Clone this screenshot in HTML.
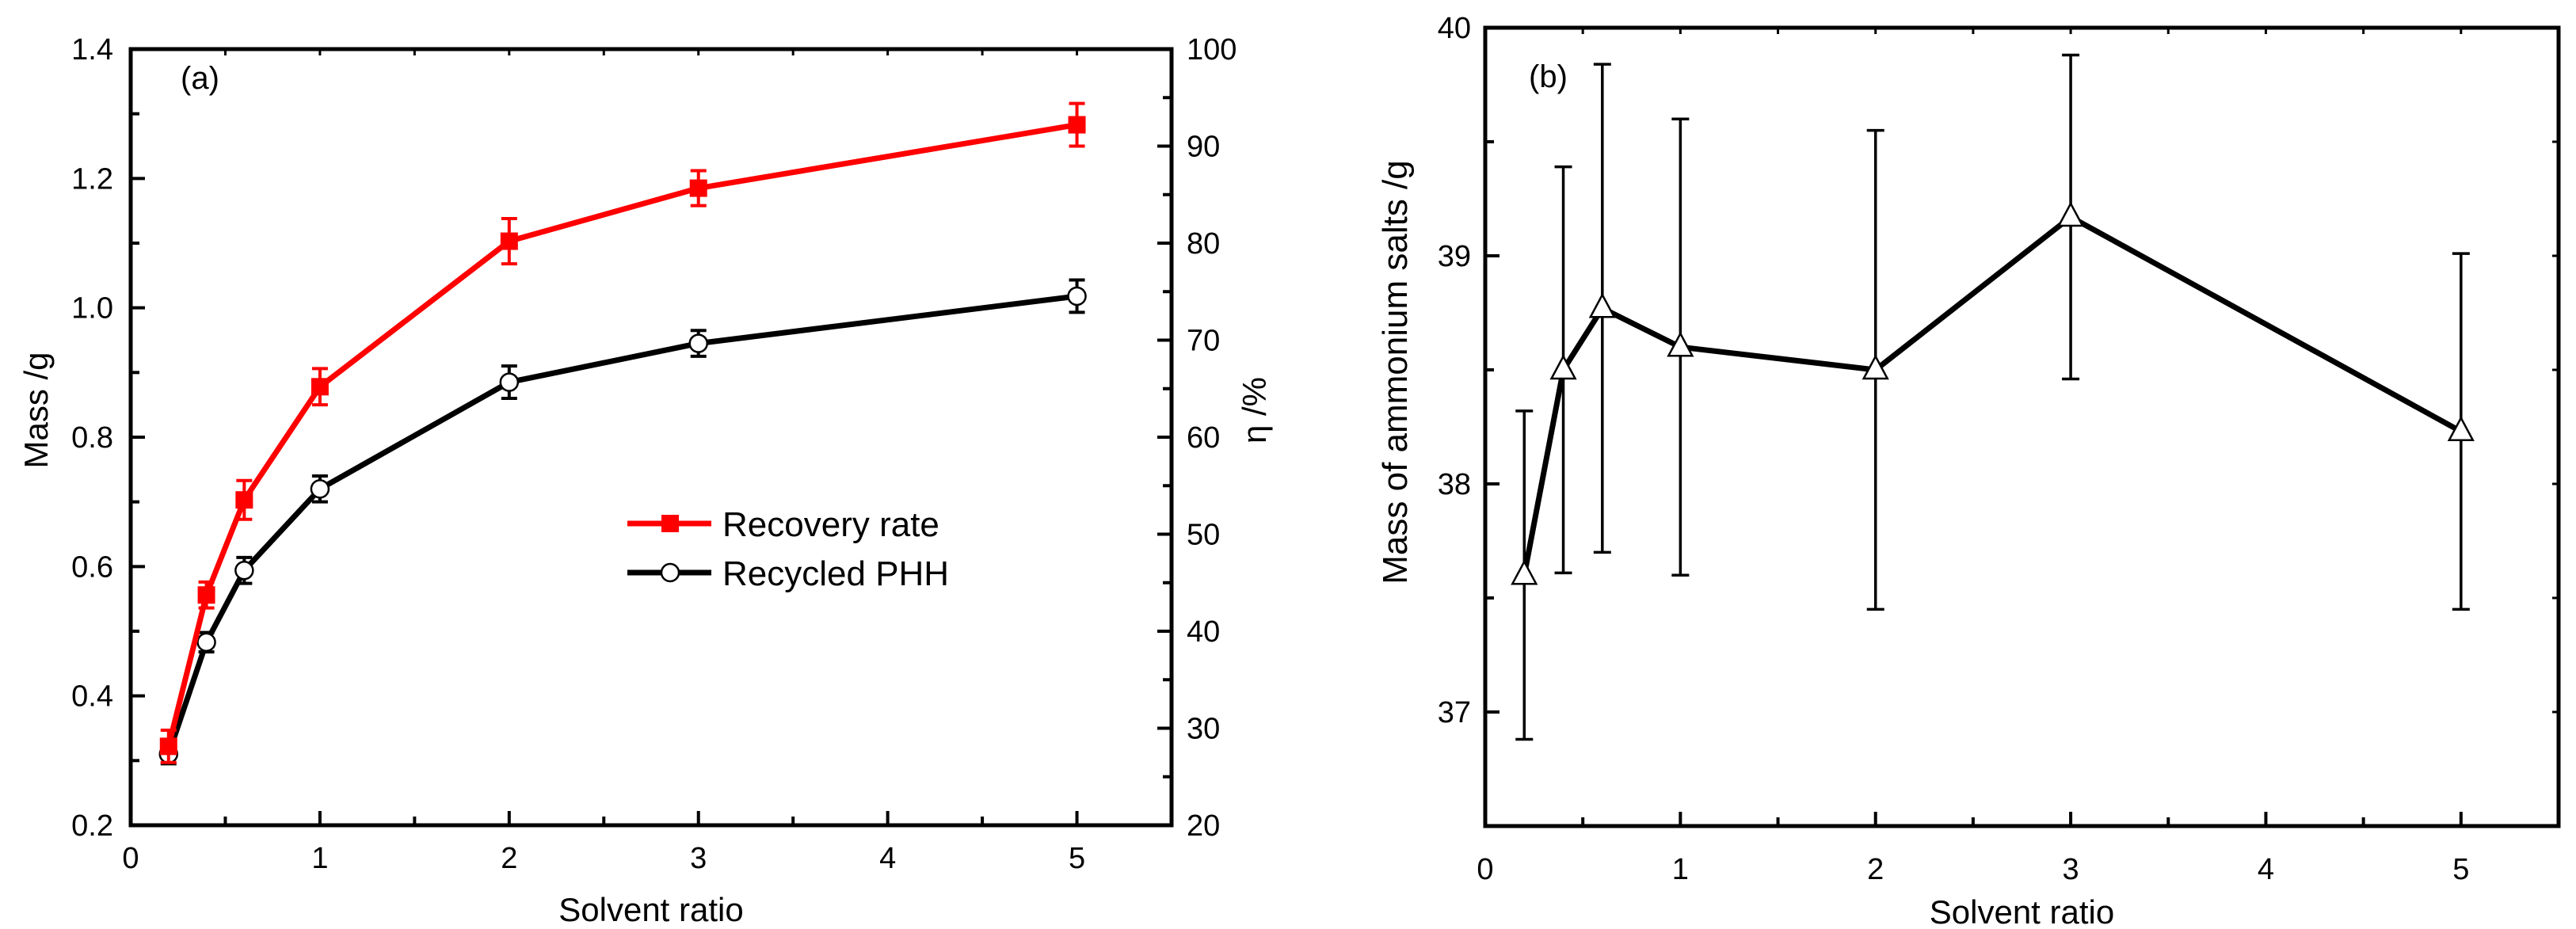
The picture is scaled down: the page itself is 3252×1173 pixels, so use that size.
<!DOCTYPE html>
<html><head><meta charset="utf-8"><style>
html,body{margin:0;padding:0;background:#fff}
svg{display:block}
text{font-family:"Liberation Sans",Arial,sans-serif;fill:#000}
</style></head><body>
<svg id="chart" width="3252" height="1173" viewBox="0 0 3252 1173" xmlns="http://www.w3.org/2000/svg"></svg>
<script>
const xCats=[0.2,0.4,0.6,1,2,3,5];
const recoveryMass=[0.322,0.556,0.703,0.878,1.103,1.185,1.283];
const recoveryErr=[0.025,0.02,0.03,0.028,0.035,0.027,0.033];
const phhMass=[0.31,0.483,0.594,0.72,0.885,0.945,1.018];
const phhErr=[0.015,0.015,0.02,0.02,0.025,0.02,0.025];
const saltMass=[37.6,38.5,38.77,38.6,38.5,39.17,38.23];
const saltErr=[0.72,0.89,1.07,1.0,1.05,0.71,0.78];
const xTicks=[0,1,2,3,4,5];
const yTicksA=[0.2,0.4,0.6,0.8,1.0,1.2,1.4];
const yTicksEta=[20,30,40,50,60,70,80,90,100];
const yTicksB=[37,38,39,40];

const svg=document.getElementById('chart');
const NS='http://www.w3.org/2000/svg';
function el(tag,attrs,parent){const e=document.createElementNS(NS,tag);for(const k in attrs)e.setAttribute(k,attrs[k]);(parent||svg).appendChild(e);return e;}
function txt(s,attrs,parent){const e=el('text',attrs,parent);e.textContent=s;return e;}

const A={l:165,r:1479,t:62,b:1042};
const axA=v=>A.l+(v/5.5)*(A.r-A.l);
const ayA=v=>A.b-(v-0.2)/1.2*(A.b-A.t);
const B={l:1875,r:3230,t:35,b:1043};
const axB=v=>B.l+(v/5.5)*(B.r-B.l);
const ayB=v=>B.b-(v-36.5)/3.5*(B.b-B.t);

// ---- Panel A ----
const gA=el('g',{});


const frameA=el('rect',{x:A.l,y:A.t,width:A.r-A.l,height:A.b-A.t,fill:'none',stroke:'#000','stroke-width':5},gA);


for(let v=0;v<=5.5;v+=0.5){const x=axA(v);const L=(Math.abs(v-Math.round(v))<1e-6)?18:11;
 el('line',{x1:x,y1:A.b,x2:x,y2:A.b-L,stroke:'#000','stroke-width':4},gA);
 el('line',{x1:x,y1:A.t,x2:x,y2:A.t+8,stroke:'#000','stroke-width':3},gA);}
xTicks.forEach(v=>{const t=txt(String(v),{x:axA(v),y:1096,'font-size':38,'text-anchor':'middle'},gA);
 });
for(let v=0.2;v<=1.401;v+=0.1){const y=ayA(v);const major=Math.round(v*10)%2===0;
 el('line',{x1:A.l,y1:y,x2:A.l+(major?18:11),y2:y,stroke:'#000','stroke-width':4},gA);}
yTicksA.forEach(v=>{const t=txt(v.toFixed(1),{x:143,y:ayA(v)+13,'font-size':38,'text-anchor':'end'},gA);
 });
for(let v=20;v<=100;v+=5){const y=A.b-(v-20)/80*(A.b-A.t);const major=v%10===0;
 el('line',{x1:A.r,y1:y,x2:A.r-(major?18:11),y2:y,stroke:'#000','stroke-width':4},gA);}
yTicksEta.forEach(v=>{const t=txt(String(v),{x:1498,y:A.b-(v-20)/80*(A.b-A.t)+13,'font-size':38},gA);
 });
let t;
t=txt('Mass /g',{x:0,y:0,'font-size':42,'text-anchor':'middle',transform:'translate(60,518) rotate(-90)'},gA);

t=txt('η /%',{x:0,y:0,'font-size':42,'text-anchor':'middle',transform:'translate(1598,518) rotate(-90)'},gA);

t=txt('Solvent ratio',{x:(A.l+A.r)/2,y:1163,'font-size':42,'text-anchor':'middle'},gA);

t=txt('(a)',{x:228,y:112,'font-size':40},gA);


function series(vals,errs,color,marker,name){
 const g=el('g',{},gA);
 const pts=xCats.map((x,i)=>axA(x)+','+ayA(vals[i])).join(' ');
 const pl=el('polyline',{points:pts,fill:'none',stroke:color,'stroke-width':7,'stroke-linejoin':'round'},g);
 
 xCats.forEach((x,i)=>{const cx=axA(x),y1=ayA(vals[i]+errs[i]),y2=ayA(vals[i]-errs[i]);
  const e=el('path',{d:`M${cx},${y1}V${y2}M${cx-10},${y1}H${cx+10}M${cx-10},${y2}H${cx+10}`,stroke:color,'stroke-width':4,fill:'none'},g);
  
  const cy=ayA(vals[i]);let m;
  if(marker==='square')m=el('rect',{x:cx-11,y:cy-11,width:22,height:22,fill:color},g);
  else m=el('circle',{cx:cx,cy:cy,r:11,fill:'#fff',stroke:'#000','stroke-width':2.5},g);
  });
}
series(phhMass,phhErr,'#000','circle','recycled-phh-series');
series(recoveryMass,recoveryErr,'#ff0000','square','recovery-rate-series');

const lg=el('g',{},gA);
const le1=el('g',{},lg);
el('line',{x1:792,y1:661,x2:898,y2:661,stroke:'#ff0000','stroke-width':7},le1);
el('rect',{x:835,y:650,width:22,height:22,fill:'#ff0000'},le1);
txt('Recovery rate',{x:912,y:677,'font-size':44},le1);
const le2=el('g',{},lg);
el('line',{x1:792,y1:723,x2:898,y2:723,stroke:'#000','stroke-width':7},le2);
el('circle',{cx:846,cy:723,r:11,fill:'#fff',stroke:'#000','stroke-width':2.5},le2);
txt('Recycled PHH',{x:912,y:739,'font-size':44},le2);

// ---- Panel B ----
const gB=el('g',{});


const frameB=el('rect',{x:B.l,y:B.t,width:B.r-B.l,height:B.b-B.t,fill:'none',stroke:'#000','stroke-width':5},gB);


for(let v=0;v<=5.5;v+=0.5){const x=axB(v);const L=(Math.abs(v-Math.round(v))<1e-6)?18:11;
 el('line',{x1:x,y1:B.b,x2:x,y2:B.b-L,stroke:'#000','stroke-width':4},gB);
 el('line',{x1:x,y1:B.t,x2:x,y2:B.t+8,stroke:'#000','stroke-width':3},gB);}
xTicks.forEach(v=>{const t=txt(String(v),{x:axB(v),y:1110,'font-size':38,'text-anchor':'middle'},gB);
 });
for(let v=36.5;v<=40.01;v+=0.5){const y=ayB(v);const major=Math.abs(v-Math.round(v))<1e-6;
 el('line',{x1:B.l,y1:y,x2:B.l+(major?18:11),y2:y,stroke:'#000','stroke-width':4},gB);
 el('line',{x1:B.r,y1:y,x2:B.r-8,y2:y,stroke:'#000','stroke-width':3},gB);}
yTicksB.forEach(v=>{const t=txt(String(v),{x:1857,y:ayB(v)+13,'font-size':38,'text-anchor':'end'},gB);
 });
t=txt('Mass of ammonium salts /g',{x:0,y:0,'font-size':44,'text-anchor':'middle',transform:'translate(1776,470) rotate(-90)'},gB);

t=txt('Solvent ratio',{x:(B.l+B.r)/2,y:1166,'font-size':42,'text-anchor':'middle'},gB);

t=txt('(b)',{x:1930,y:110,'font-size':40},gB);


const sb=el('g',{},gB);
const plB=el('polyline',{points:xCats.map((x,i)=>axB(x)+','+ayB(saltMass[i])).join(' '),fill:'none',stroke:'#000','stroke-width':7,'stroke-linejoin':'round'},sb);

xCats.forEach((x,i)=>{const cx=axB(x),y1=ayB(saltMass[i]+saltErr[i]),y2=ayB(saltMass[i]-saltErr[i]);
 const e=el('path',{d:`M${cx},${y1}V${y2}M${cx-11},${y1}H${cx+11}M${cx-11},${y2}H${cx+11}`,stroke:'#000','stroke-width':3.5,fill:'none'},sb);
 
 const cy=ayB(saltMass[i]);
 const m=el('polygon',{points:`${cx},${cy-17} ${cx-15},${cy+11} ${cx+15},${cy+11}`,fill:'#fff',stroke:'#000','stroke-width':2.5},sb);
 });
</script>
</body></html>
